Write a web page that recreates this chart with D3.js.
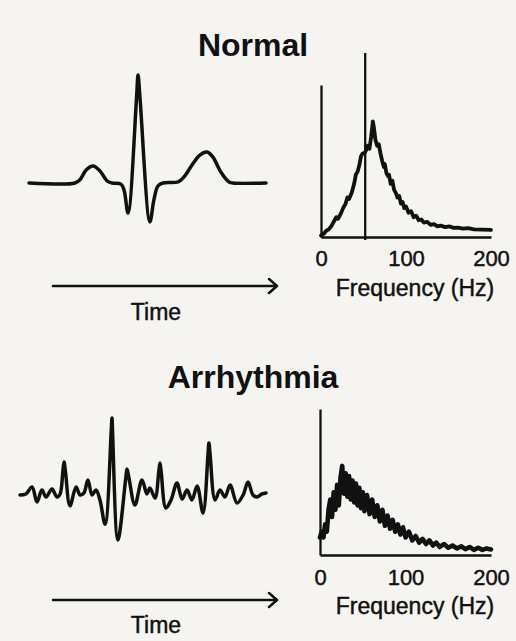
<!DOCTYPE html>
<html>
<head>
<meta charset="utf-8">
<script src="https://cdn.jsdelivr.net/npm/d3@7"></script>
<style>
  html, body { margin: 0; padding: 0; background: #f6f4f0; }
  svg { display: block; }
  text { font-family: "Liberation Sans", Arial, Helvetica, sans-serif; fill: #111; }
  .lbl { stroke: #111; stroke-width: 0.45px; paint-order: stroke; }
</style>
</head>
<body>
<svg id="chart" width="516" height="641"></svg>
<script>
// ---------- DATA ----------
const panelTitles = ["Normal", "Arrhythmia"];
const timeLabel = "Time";
const freqLabel = "Frequency (Hz)";
const freqTicks = [0, 100, 200];
const mainsMarkerHz = 52;

// Normal ECG: time (ms), amplitude (a.u.)
const normalEcgTime = [0, 194, 215, 241, 270, 300, 329, 350, 388, 401, 418, 454, 460, 468, 510, 527, 544, 565, 629, 654, 688, 722, 751, 776, 810, 844, 861, 1000];
const normalEcgAmp  = [0, 0, 0.03, 0.12, 0.157, 0.11, 0.02, 0, -0.01, -0.065, -0.278, 0.80, 1.0, 0.80, -0.36, -0.157, -0.028, 0, 0.01, 0.056, 0.167, 0.26, 0.287, 0.24, 0.10, 0.01, 0, 0];

// Arrhythmia ECG: time (ms), amplitude (a.u.)
const arrEcgTime = [0, 24, 49, 69, 89, 106, 130, 150, 163, 174, 179, 185, 203, 228, 244, 260, 276, 293, 309, 325, 346, 371, 374, 376, 398, 430, 435, 443, 467, 496, 516, 528, 549, 564, 569, 574, 593, 614, 638, 659, 679, 699, 720, 744, 764, 768, 773, 793, 813, 833, 854, 882, 907, 927, 947, 963, 984, 1000];
const arrEcgAmp  = [0, 0.01, 0.074, -0.065, 0.046, -0.019, 0.056, -0.019, 0.01, 0.213, 0.306, 0.213, -0.10, 0.074, 0, 0.02, 0.139, 0, 0.046, -0.046, -0.27, 0.602, 0.713, 0.602, -0.417, 0.157, 0.24, 0.157, -0.093, 0.139, 0.01, 0.065, -0.028, 0.213, 0.296, 0.213, -0.12, -0.046, 0.111, -0.037, 0.046, -0.046, 0.083, -0.167, 0.37, 0.481, 0.37, -0.046, 0.046, -0.019, 0.093, -0.074, 0, 0.12, 0, -0.019, 0.01, 0.019];

// Normal spectrum: frequency (Hz), power (a.u.)
const normalSpecFreq = [0, 3, 6, 9, 12, 15, 18, 20, 23, 26, 29, 31, 33, 36, 39, 41, 43, 45, 47, 49, 51, 53, 55, 57, 59, 61, 62, 64, 66, 68, 70, 72, 74, 75, 77, 79, 80, 82, 84, 86, 88, 90, 92, 94, 96, 98, 100, 103, 106, 109, 112, 115, 118, 121, 125, 129, 133, 137, 141, 146, 151, 156, 161, 167, 173, 180, 190, 200];
const normalSpecPow  = [0.01, 0.02, 0.04, 0.05, 0.07, 0.10, 0.13, 0.12, 0.15, 0.19, 0.22, 0.26, 0.25, 0.29, 0.35, 0.41, 0.43, 0.47, 0.53, 0.55, 0.55, 0.57, 0.60, 0.58, 0.66, 0.76, 0.73, 0.64, 0.60, 0.61, 0.55, 0.50, 0.46, 0.48, 0.42, 0.40, 0.41, 0.35, 0.37, 0.31, 0.29, 0.26, 0.27, 0.22, 0.23, 0.19, 0.20, 0.16, 0.17, 0.13, 0.14, 0.11, 0.115, 0.095, 0.10, 0.08, 0.085, 0.07, 0.075, 0.065, 0.07, 0.06, 0.062, 0.055, 0.058, 0.05, 0.048, 0.047];

// Arrhythmia spectrum: frequency (Hz), power (a.u.)
const arrSpecFreq = [0, 2, 4, 6, 8, 10, 12, 14, 16, 18, 20, 22, 24, 26, 28, 30, 32, 34, 36, 38, 40, 42, 44, 46, 48, 50, 52, 55, 58, 61, 64, 67, 70, 73, 76, 79, 82, 85, 88, 91, 94, 97, 100, 104, 108, 112, 116, 120, 124, 128, 132, 136, 140, 145, 150, 155, 160, 165, 170, 175, 180, 185, 190, 195, 200];
const arrSpecPow  = [0.12, 0.16, 0.12, 0.21, 0.16, 0.31, 0.38, 0.26, 0.43, 0.31, 0.48, 0.34, 0.53, 0.61, 0.42, 0.56, 0.40, 0.54, 0.38, 0.51, 0.36, 0.49, 0.34, 0.46, 0.32, 0.43, 0.30, 0.41, 0.28, 0.38, 0.26, 0.34, 0.23, 0.31, 0.20, 0.27, 0.18, 0.24, 0.16, 0.21, 0.14, 0.19, 0.12, 0.16, 0.10, 0.13, 0.085, 0.11, 0.075, 0.10, 0.065, 0.085, 0.055, 0.075, 0.05, 0.065, 0.045, 0.06, 0.04, 0.055, 0.035, 0.05, 0.035, 0.045, 0.038];

// ---------- DRAWING ----------
const svg = d3.select("#chart");
const ink = "#111";

const panels = [
  { title: panelTitles[0], titleY: 56,
    ecgT: normalEcgTime, ecgA: normalEcgAmp, ecgX: [29, 266], ecgY: [237, 75],
    arrowY: 286, timeY: 320,
    specF: normalSpecFreq, specP: normalSpecPow, specX: [321, 491], specY: [237, 85],
    marker: true, tickY: 266, freqY: 296, specW: 3.8 },
  { title: panelTitles[1], titleY: 388,
    ecgT: arrEcgTime, ecgA: arrEcgAmp, ecgX: [20, 266], ecgY: [549, 387],
    arrowY: 600, timeY: 633,
    specF: arrSpecFreq, specP: arrSpecPow, specX: [320, 491], specY: [555, 409],
    marker: false, tickY: 585, freqY: 614, specW: 4.6 }
];

panels.forEach(p => {
  // title
  svg.append("text")
    .attr("x", 253).attr("y", p.titleY)
    .attr("text-anchor", "middle")
    .style("font-size", "32px").style("font-weight", "bold")
    .text(p.title);

  // ECG trace
  const x = d3.scaleLinear().domain([0, 1000]).range(p.ecgX);
  const y = d3.scaleLinear().domain([-0.5, 1]).range(p.ecgY);
  const ecg = p.ecgT.map((t, i) => [t, p.ecgA[i]]);
  svg.append("path")
    .datum(ecg)
    .attr("fill", "none").attr("stroke", ink)
    .attr("stroke-width", 3.5).attr("stroke-linejoin", "round").attr("stroke-linecap", "round")
    .attr("d", d3.line().x(d => x(d[0])).y(d => y(d[1])).curve(d3.curveCatmullRom.alpha(0.5)));

  // time arrow
  const ay = p.arrowY;
  svg.append("path")
    .attr("fill", "none").attr("stroke", ink).attr("stroke-width", 2.5)
    .attr("stroke-linecap", "round").attr("stroke-linejoin", "round")
    .attr("d", `M53,${ay}H277M269,${ay - 7}L277,${ay}L269,${ay + 7}`);
  svg.append("text")
    .attr("class", "lbl")
    .attr("x", 156).attr("y", p.timeY)
    .attr("text-anchor", "middle")
    .style("font-size", "23px")
    .text(timeLabel);

  // spectrum
  const fx = d3.scaleLinear().domain([0, 200]).range(p.specX);
  const py = d3.scaleLinear().domain([0, 1]).range(p.specY);

  const gx = svg.append("g")
    .attr("transform", `translate(0,${p.specY[0]})`)
    .call(d3.axisBottom(fx).tickValues(freqTicks).tickSize(0).tickSizeOuter(0).tickPadding(p.tickY - p.specY[0] - 16));
  gx.select(".domain").attr("stroke", ink).attr("stroke-width", 2.3);
  gx.selectAll("text").attr("class", "lbl").style("font-size", "22px").attr("fill", ink)
    .attr("font-family", "Liberation Sans, Arial, sans-serif");

  const gy = svg.append("g")
    .attr("transform", `translate(${p.specX[0]},0)`)
    .call(d3.axisLeft(py).tickValues([]).tickSize(0).tickSizeOuter(0));
  gy.select(".domain").attr("stroke", ink).attr("stroke-width", 2.3);

  svg.append("text")
    .attr("class", "lbl")
    .attr("x", 415).attr("y", p.freqY)
    .attr("text-anchor", "middle")
    .style("font-size", "23px")
    .text(freqLabel);

  const spec = p.specF.map((f, i) => [f, p.specP[i]]);
  svg.append("path")
    .datum(spec)
    .attr("fill", "none").attr("stroke", ink)
    .attr("stroke-width", p.specW).attr("stroke-linejoin", "round").attr("stroke-linecap", "round")
    .attr("d", d3.line().x(d => fx(d[0])).y(d => py(d[1])));

  if (p.marker) {
    svg.append("line")
      .attr("x1", fx(mainsMarkerHz)).attr("x2", fx(mainsMarkerHz))
      .attr("y1", 53).attr("y2", p.specY[0] + 3)
      .attr("stroke", ink).attr("stroke-width", 2.3);
  }
});
</script>
</body>
</html>
